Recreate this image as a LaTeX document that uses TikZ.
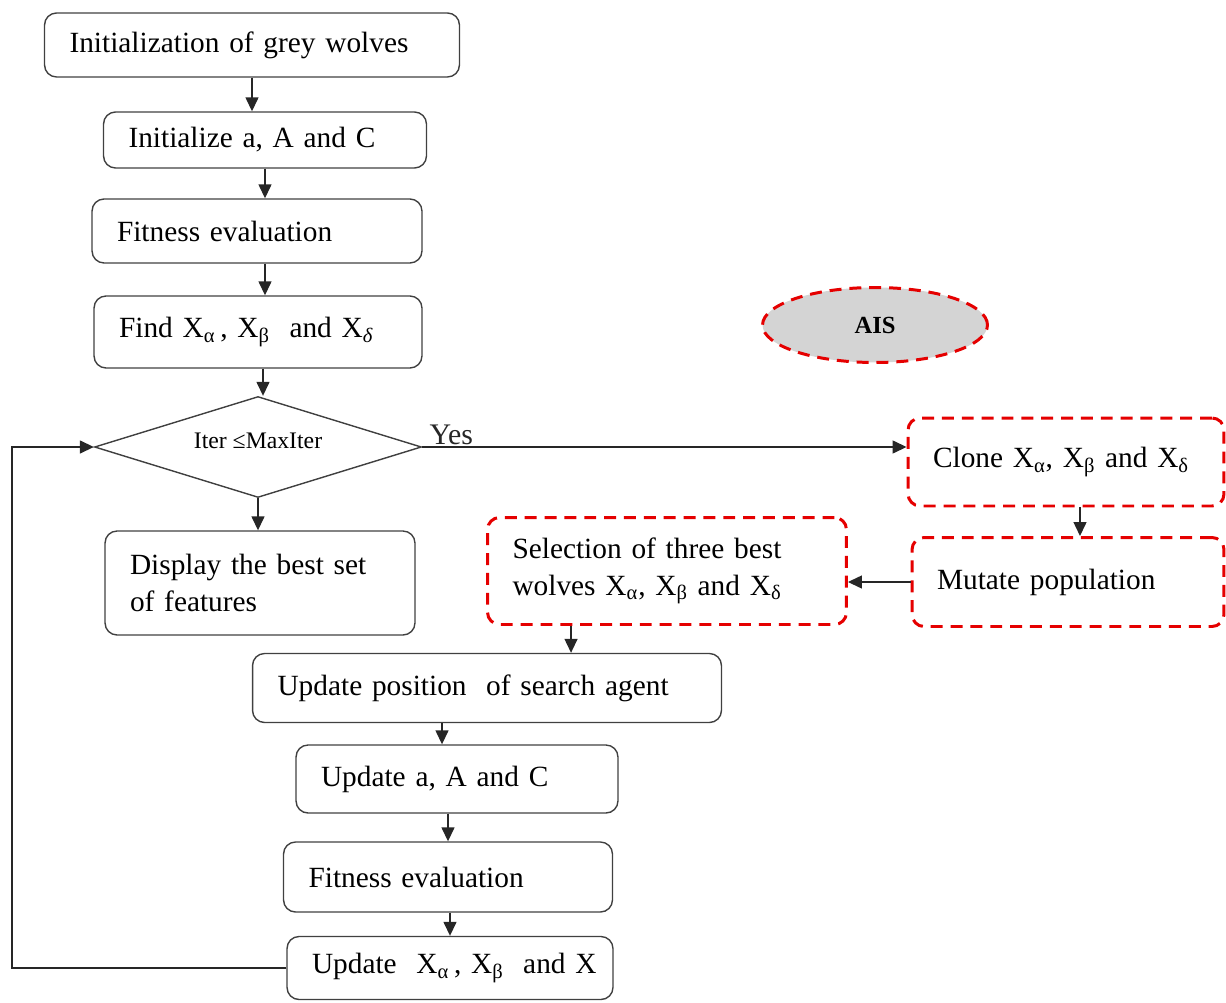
\documentclass[tikz,border=0pt]{standalone}
\usepackage{fontspec}
\setmainfont{Liberation Serif}
\usepackage{tikz}
\usetikzlibrary{arrows.meta, positioning, shapes.geometric, calc}

\newcommand{\Xs}[1]{X\textsubscript{#1}}

\begin{document}
\begin{tikzpicture}[
    x=0.02cm, y=-0.02cm,
    stepbox/.style 2 args={draw=black!75, line width=0.8pt, rounded corners=2.4mm,
        inner xsep=0.5cm, inner ysep=0pt, align=left, text width=#1, minimum height=#2,
        font=\fontsize{16.7}{21}\selectfont},
    aisbox/.style 2 args={stepbox={#1}{#2}, draw=red!90!black, line width=1.7pt,
        dash pattern=on 6.8pt off 4.5pt},
    arrowstyle/.style={-{Triangle[length=2.8mm, width=2.6mm]}, line width=0.8pt, black!85},
]
    \useasboundingbox (0,0) rectangle (1226,1003);

    % Main column of the grey wolf loop
    \node[stepbox={7.3cm}{1.28cm}] (init) at (252,45) {Initialization of grey wolves};
    \node[stepbox={5.46cm}{1.12cm}] (iniAC) at (265,140) {Initialize a, A and C};
    \node[stepbox={5.6cm}{1.28cm}] (fit1) at (257,231) {Fitness evaluation};
    \node[stepbox={5.56cm}{1.44cm}] (find) at (258,332) {Find \Xs{α}\,, \Xs{β}\ \ and \Xs{\itshape δ}};
    \node[diamond, draw=black!75, line width=0.8pt, inner sep=0pt, aspect=3.2,
          minimum width=6.54cm, minimum height=2.02cm] (iter) at (258,447) {};
    \node[font=\fontsize{13.5}{16}\selectfont, inner sep=0pt] (iterText) at (258,441) {Iter ≤MaxIter};
    \node[stepbox={5.2cm}{2.08cm}] (disp) at (260,583) {Display the best set\\of features};

    \node[stepbox={8.38cm}{1.38cm}] (updPos) at (487,688) {Update position\ \ of search agent};
    \node[stepbox={5.44cm}{1.36cm}] (updAC) at (457,779) {Update a, A and C};
    \node[stepbox={5.58cm}{1.4cm}] (fit2) at (448,877) {Fitness evaluation};
    \node[stepbox={5.52cm}{1.26cm}] (updX) at (450,968) {\mbox{Update\ \ \Xs{α}\,, \Xs{β}\ \ and X}};

    % AIS part
    \node[ellipse, draw=red!90!black, fill=black!17, line width=1.7pt,
          dash pattern=on 6.8pt off 4.5pt, minimum width=4.5cm, minimum height=1.5cm,
          font=\fontsize{14}{17}\selectfont\bfseries] (ais) at (875,325) {AIS};
    \node[aisbox={5.32cm}{1.76cm}] (clone) at (1066,462) {Clone \Xs{α}, \Xs{β} and \Xs{δ}};
    \node[aisbox={5.24cm}{1.78cm}] (mutate) at (1068,582) {Mutate population};
    \node[aisbox={6.18cm}{2.14cm}] (select) at (667,571) {Selection of three best\\wolves \Xs{α}, \Xs{β} and \Xs{δ}};

    \coordinate (loopX) at (12,0);

    % Arrows
    \draw[arrowstyle] (init.south) -- (init.south |- iniAC.north);
    \draw[arrowstyle] (iniAC.south) -- (iniAC.south |- fit1.north);
    \draw[arrowstyle] ([xshift=0.16cm]fit1.south) -- ([xshift=0.16cm]fit1.south |- find.north);
    \draw[arrowstyle] ([xshift=0.1cm]find.south) -- ([xshift=0.1cm]find.south |- iter.north);
    \draw[arrowstyle] (iter.south) -- (iter.south |- disp.north);

    \draw[arrowstyle] (iter.east) -- (iter.east -| clone.west)
        node[pos=0, above right, xshift=0.1cm, inner sep=1pt, font=\fontsize{17}{21}\selectfont] (yes) {Yes};
    \draw[arrowstyle] ([xshift=0.28cm]clone.south) -- ([xshift=0.28cm]clone.south |- mutate.north);
    \draw[arrowstyle] (mutate.west) -- (mutate.west -| select.east);
    \draw[arrowstyle] ([xshift=1.7cm]select.south west) -- ([xshift=1.7cm]select.south west |- updPos.north);

    \draw[arrowstyle] ([xshift=-0.3cm]updAC.north |- updPos.south) -- ([xshift=-0.3cm]updAC.north);
    \draw[arrowstyle] (updAC.south -| fit2.north) -- (fit2.north);
    \draw[arrowstyle] (fit2.south -| updX.north) -- (updX.north);

    % Loop back to the condition
    \draw[arrowstyle] (updX.west) -- (updX.west -| loopX) |- (iter.west);

\end{tikzpicture}
\end{document}
